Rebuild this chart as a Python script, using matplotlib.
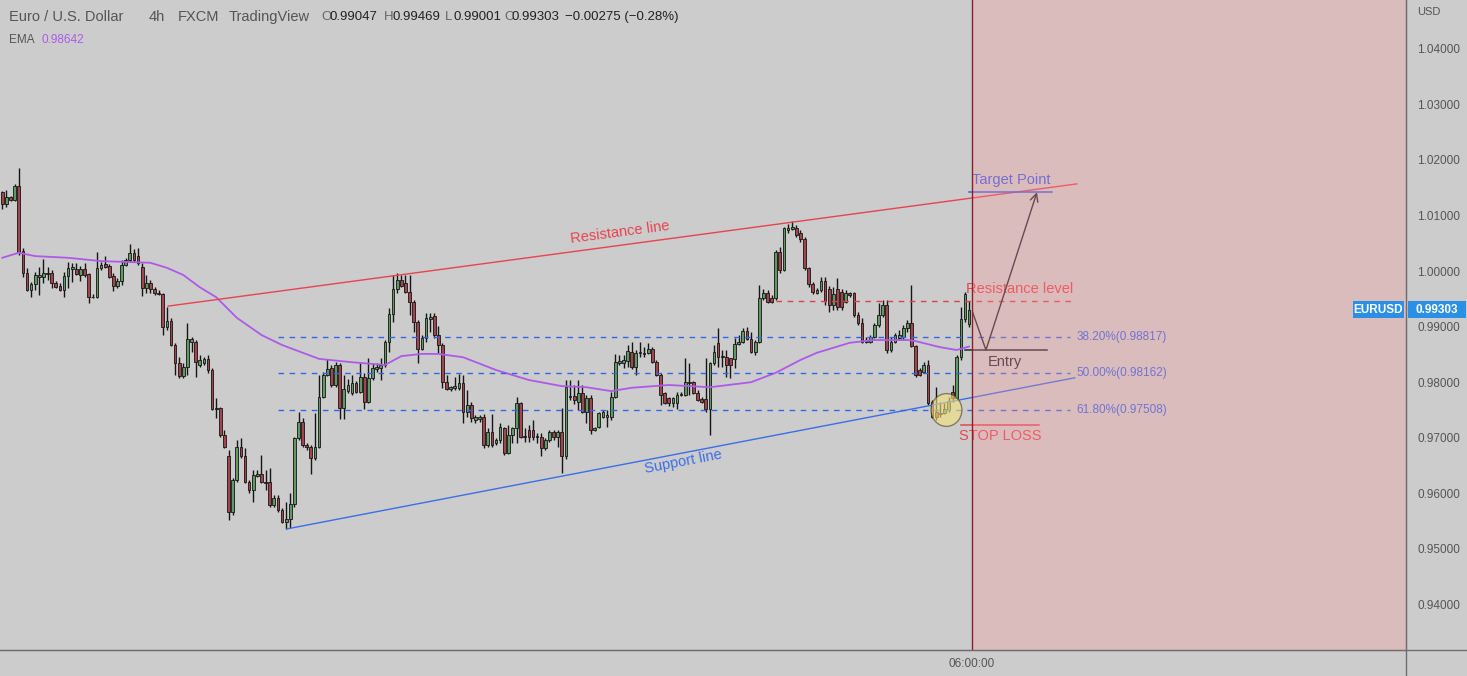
import matplotlib
matplotlib.use("Agg")
import matplotlib.pyplot as plt
import matplotlib.patches as mpatches
import matplotlib.transforms as mtransforms
from matplotlib.lines import Line2D
import numpy as np

plt.rcParams['font.family'] = ['Liberation Sans', 'DejaVu Sans']

# --- Data: EUR/USD 4h candles ----------------------------------------------
opens = [
    1.0142, 1.0121, 1.0133, 1.0128, 1.0153, 1.0036, 0.9997, 0.9966, 0.9977, 0.9989,
    0.9989, 0.9997, 0.9997, 0.9979, 0.9973, 0.9966, 0.9991, 1.0004, 1.0004, 0.9993,
    1.0004, 0.9995, 0.9953, 0.9953, 1.0006, 1.0013, 1.0009, 0.9991, 0.9973, 0.9982,
    1.0011, 1.0020, 1.0033, 1.0027, 1.0007, 0.9970, 0.9979, 0.9968, 0.9961, 0.9959,
    0.9899, 0.9910, 0.9867, 0.9835, 0.9811, 0.9827, 0.9872, 0.9872, 0.9831, 0.9835,
    0.9842, 0.9822, 0.9754, 0.9754, 0.9705, 0.9667, 0.9566, 0.9624, 0.9683, 0.9667,
    0.9620, 0.9606, 0.9631, 0.9635, 0.9620, 0.9620, 0.9579, 0.9592, 0.9570, 0.9549,
    0.9554, 0.9581, 0.9700, 0.9728, 0.9687, 0.9683, 0.9664, 0.9683, 0.9773, 0.9813,
    0.9826, 0.9795, 0.9831, 0.9754, 0.9784, 0.9781, 0.9799, 0.9782, 0.9809, 0.9764,
    0.9808, 0.9824, 0.9826, 0.9831, 0.9872, 0.9923, 0.9968, 0.9984, 0.9979, 0.9962,
    0.9944, 0.9908, 0.9860, 0.9880, 0.9914, 0.9919, 0.9885, 0.9867, 0.9800, 0.9788,
    0.9790, 0.9790, 0.9799, 0.9746, 0.9759, 0.9732, 0.9734, 0.9737, 0.9687, 0.9710,
    0.9691, 0.9696, 0.9718, 0.9673, 0.9705, 0.9718, 0.9763, 0.9704, 0.9714, 0.9714,
    0.9704, 0.9702, 0.9682, 0.9696, 0.9710, 0.9702, 0.9710, 0.9667, 0.9773, 0.9775,
    0.9764, 0.9781, 0.9746, 0.9772, 0.9714, 0.9719, 0.9737, 0.9737, 0.9737, 0.9773,
    0.9835, 0.9835, 0.9838, 0.9854, 0.9827, 0.9853, 0.9853, 0.9853, 0.9860, 0.9836,
    0.9813, 0.9781, 0.9772, 0.9763, 0.9763, 0.9777, 0.9777, 0.9799, 0.9800, 0.9781,
    0.9770, 0.9770, 0.9752, 0.9835, 0.9871, 0.9847, 0.9845, 0.9844, 0.9842, 0.9869,
    0.9872, 0.9892, 0.9878, 0.9854, 0.9872, 0.9952, 0.9961, 0.9952, 0.9952, 1.0034,
    1.0002, 1.0074, 1.0076, 1.0077, 1.0069, 1.0058, 1.0006, 0.9977, 0.9961, 0.9966,
    0.9982, 0.9968, 0.9939, 0.9968, 0.9962, 0.9944, 0.9961, 0.9961, 0.9921, 0.9907,
    0.9876, 0.9872, 0.9881, 0.9903, 0.9921, 0.9939, 0.9858, 0.9872, 0.9880, 0.9881,
    0.9898, 0.9907, 0.9865, 0.9822, 0.9818, 0.9831, 0.9764, 0.9746, 0.9745, 0.9745,
    0.9750, 0.9782, 0.9772, 0.9845, 0.9914, 0.99047,
]
highs = [
    1.0144, 1.0146, 1.0135, 1.0157, 1.0186, 1.0042, 1.0006, 0.9980, 0.9998, 1.0007,
    1.0022, 1.0007, 1.0002, 0.9982, 0.9979, 0.9998, 1.0016, 1.0015, 1.0015, 1.0009,
    1.0015, 0.9997, 0.9959, 1.0034, 1.0016, 1.0027, 1.0013, 0.9997, 0.9988, 1.0020,
    1.0024, 1.0049, 1.0040, 1.0042, 1.0015, 0.9993, 0.9984, 0.9971, 0.9966, 0.9961,
    0.9935, 0.9915, 0.9871, 0.9845, 0.9835, 0.9907, 0.9881, 0.9876, 0.9849, 0.9845,
    0.9849, 0.9826, 0.9772, 0.9755, 0.9714, 0.9678, 0.9628, 0.9696, 0.9700, 0.9682,
    0.9624, 0.9642, 0.9642, 0.9669, 0.9642, 0.9646, 0.9597, 0.9597, 0.9574, 0.9584,
    0.9601, 0.9702, 0.9746, 0.9736, 0.9691, 0.9687, 0.9745, 0.9813, 0.9818, 0.9842,
    0.9831, 0.9836, 0.9835, 0.9813, 0.9806, 0.9813, 0.9802, 0.9835, 0.9817, 0.9844,
    0.9835, 0.9835, 0.9844, 0.9876, 0.9934, 0.9993, 0.9997, 0.9993, 0.9993, 0.9993,
    0.9948, 0.9912, 0.9885, 0.9925, 0.9925, 0.9925, 0.9901, 0.9871, 0.9813, 0.9793,
    0.9809, 0.9815, 0.9813, 0.9786, 0.9764, 0.9741, 0.9741, 0.9743, 0.9718, 0.9743,
    0.9700, 0.9727, 0.9719, 0.9723, 0.9719, 0.9773, 0.9764, 0.9718, 0.9723, 0.9732,
    0.9709, 0.9709, 0.9700, 0.9714, 0.9714, 0.9714, 0.9754, 0.9804, 0.9804, 0.9795,
    0.9804, 0.9795, 0.9777, 0.9777, 0.9719, 0.9746, 0.9750, 0.9750, 0.9782, 0.9851,
    0.9849, 0.9849, 0.9867, 0.9872, 0.9858, 0.9872, 0.9863, 0.9871, 0.9863, 0.9840,
    0.9817, 0.9782, 0.9773, 0.9773, 0.9782, 0.9782, 0.9844, 0.9835, 0.9802, 0.9786,
    0.9773, 0.9844, 0.9836, 0.9867, 0.9898, 0.9858, 0.9858, 0.9844, 0.9880, 0.9885,
    0.9898, 0.9899, 0.9890, 0.9876, 0.9975, 0.9968, 0.9966, 0.9957, 1.0038, 1.0044,
    1.0079, 1.0085, 1.0090, 1.0083, 1.0074, 1.0061, 1.0007, 0.9980, 0.9970, 0.9989,
    0.9989, 0.9973, 0.9971, 0.9988, 0.9968, 0.9966, 0.9962, 0.9962, 0.9926, 0.9916,
    0.9881, 0.9885, 0.9907, 0.9943, 0.9948, 0.9948, 0.9881, 0.9889, 0.9894, 0.9903,
    0.9912, 0.9975, 0.9867, 0.9826, 0.9836, 0.9840, 0.9768, 0.9792, 0.9764, 0.9763,
    0.9773, 0.9795, 0.9849, 0.9935, 0.9962, 0.99469,
]
lows = [
    1.0112, 1.0115, 1.0126, 1.0126, 1.0029, 0.9989, 0.9964, 0.9953, 0.9966, 0.9957,
    0.9979, 0.9984, 0.9970, 0.9970, 0.9964, 0.9953, 0.9970, 0.9980, 0.9993, 0.9982,
    0.9989, 0.9943, 0.9952, 0.9952, 1.0002, 1.0006, 0.9988, 0.9964, 0.9970, 0.9975,
    1.0009, 1.0016, 1.0016, 1.0011, 0.9955, 0.9961, 0.9961, 0.9957, 0.9957, 0.9885,
    0.9894, 0.9865, 0.9813, 0.9808, 0.9808, 0.9813, 0.9854, 0.9809, 0.9827, 0.9831,
    0.9817, 0.9750, 0.9736, 0.9702, 0.9682, 0.9552, 0.9561, 0.9620, 0.9664, 0.9619,
    0.9601, 0.9584, 0.9629, 0.9619, 0.9606, 0.9575, 0.9575, 0.9566, 0.9547, 0.9536,
    0.9538, 0.9575, 0.9696, 0.9683, 0.9678, 0.9635, 0.9660, 0.9682, 0.9772, 0.9811,
    0.9792, 0.9792, 0.9734, 0.9734, 0.9781, 0.9777, 0.9781, 0.9781, 0.9752, 0.9763,
    0.9804, 0.9818, 0.9804, 0.9827, 0.9854, 0.9908, 0.9961, 0.9971, 0.9961, 0.9921,
    0.9890, 0.9835, 0.9858, 0.9872, 0.9890, 0.9880, 0.9853, 0.9790, 0.9786, 0.9784,
    0.9786, 0.9786, 0.9727, 0.9737, 0.9728, 0.9727, 0.9728, 0.9682, 0.9683, 0.9683,
    0.9687, 0.9691, 0.9669, 0.9671, 0.9691, 0.9691, 0.9700, 0.9693, 0.9693, 0.9696,
    0.9691, 0.9667, 0.9678, 0.9693, 0.9696, 0.9683, 0.9637, 0.9662, 0.9768, 0.9761,
    0.9750, 0.9745, 0.9727, 0.9707, 0.9712, 0.9718, 0.9736, 0.9719, 0.9732, 0.9772,
    0.9831, 0.9826, 0.9827, 0.9824, 0.9813, 0.9845, 0.9845, 0.9851, 0.9835, 0.9811,
    0.9759, 0.9761, 0.9757, 0.9755, 0.9752, 0.9775, 0.9775, 0.9777, 0.9779, 0.9766,
    0.9763, 0.9746, 0.9705, 0.9831, 0.9827, 0.9827, 0.9809, 0.9808, 0.9826, 0.9867,
    0.9871, 0.9876, 0.9853, 0.9849, 0.9871, 0.9948, 0.9943, 0.9943, 0.9948, 0.9997,
    1.0000, 1.0069, 1.0074, 1.0061, 1.0052, 1.0002, 0.9971, 0.9959, 0.9959, 0.9962,
    0.9939, 0.9926, 0.9930, 0.9930, 0.9930, 0.9943, 0.9953, 0.9917, 0.9903, 0.9871,
    0.9871, 0.9871, 0.9880, 0.9899, 0.9917, 0.9853, 0.9854, 0.9871, 0.9876, 0.9876,
    0.9890, 0.9863, 0.9809, 0.9811, 0.9817, 0.9759, 0.9736, 0.9732, 0.9737, 0.9743,
    0.9746, 0.9764, 0.9768, 0.9840, 0.9908, 0.99001,
]
closes = [
    1.0121, 1.0133, 1.0128, 1.0153, 1.0034, 0.9997, 0.9966, 0.9977, 0.9993, 0.9993,
    0.9997, 0.9995, 0.9979, 0.9971, 0.9966, 0.9991, 1.0006, 1.0007, 0.9995, 1.0004,
    0.9993, 0.9953, 0.9954, 1.0006, 1.0011, 1.0007, 0.9989, 0.9973, 0.9982, 1.0011,
    1.0020, 1.0033, 1.0020, 1.0015, 0.9970, 0.9979, 0.9968, 0.9961, 0.9959, 0.9899,
    0.9910, 0.9867, 0.9835, 0.9811, 0.9827, 0.9878, 0.9878, 0.9836, 0.9840, 0.9842,
    0.9822, 0.9752, 0.9752, 0.9705, 0.9683, 0.9566, 0.9624, 0.9683, 0.9667, 0.9620,
    0.9606, 0.9633, 0.9635, 0.9620, 0.9619, 0.9579, 0.9592, 0.9570, 0.9549, 0.9554,
    0.9581, 0.9700, 0.9728, 0.9687, 0.9683, 0.9664, 0.9683, 0.9773, 0.9813, 0.9824,
    0.9795, 0.9831, 0.9754, 0.9788, 0.9795, 0.9799, 0.9782, 0.9809, 0.9764, 0.9808,
    0.9826, 0.9827, 0.9831, 0.9872, 0.9923, 0.9968, 0.9984, 0.9973, 0.9962, 0.9944,
    0.9908, 0.9860, 0.9880, 0.9916, 0.9917, 0.9885, 0.9867, 0.9800, 0.9788, 0.9792,
    0.9793, 0.9799, 0.9746, 0.9759, 0.9736, 0.9737, 0.9737, 0.9687, 0.9710, 0.9687,
    0.9696, 0.9719, 0.9673, 0.9705, 0.9718, 0.9763, 0.9702, 0.9702, 0.9702, 0.9702,
    0.9702, 0.9682, 0.9696, 0.9710, 0.9702, 0.9710, 0.9667, 0.9792, 0.9775, 0.9768,
    0.9781, 0.9746, 0.9772, 0.9714, 0.9718, 0.9745, 0.9746, 0.9741, 0.9773, 0.9836,
    0.9838, 0.9840, 0.9856, 0.9827, 0.9853, 0.9854, 0.9851, 0.9860, 0.9836, 0.9813,
    0.9777, 0.9763, 0.9763, 0.9772, 0.9777, 0.9779, 0.9800, 0.9800, 0.9781, 0.9768,
    0.9764, 0.9752, 0.9835, 0.9854, 0.9845, 0.9845, 0.9831, 0.9831, 0.9869, 0.9872,
    0.9892, 0.9878, 0.9854, 0.9872, 0.9952, 0.9961, 0.9944, 0.9944, 1.0034, 1.0002,
    1.0077, 1.0077, 1.0079, 1.0065, 1.0058, 1.0006, 0.9977, 0.9962, 0.9966, 0.9982,
    0.9946, 0.9939, 0.9959, 0.9935, 0.9935, 0.9961, 0.9957, 0.9921, 0.9907, 0.9872,
    0.9872, 0.9881, 0.9903, 0.9921, 0.9939, 0.9858, 0.9872, 0.9885, 0.9885, 0.9898,
    0.9907, 0.9865, 0.9813, 0.9813, 0.9831, 0.9763, 0.9737, 0.9737, 0.9743, 0.9752,
    0.9766, 0.9772, 0.9845, 0.9914, 0.9958, 0.99303,
]

# EMA, sampled at bar indices
ema_bars = [0, 4, 8, 16, 24, 32, 36, 40, 44, 48, 52, 57, 63, 68, 77, 85, 93, 97,
            102, 106, 112, 120, 128, 136, 142, 148, 153, 162, 172, 182, 188, 194,
            198, 206, 212, 220, 222, 228, 232, 235]
ema_vals = [1.0024, 1.0033, 1.0027, 1.0024, 1.0018, 1.0016, 1.0015, 1.0006, 0.9993,
            0.9971, 0.9953, 0.9916, 0.9885, 0.9867, 0.9842, 0.9836, 0.9831, 0.9847,
            0.9851, 0.9851, 0.9845, 0.9822, 0.9804, 0.9793, 0.9791, 0.9784, 0.9790,
            0.9795, 0.9791, 0.9800, 0.9817, 0.9840, 0.9853, 0.9871, 0.9876, 0.9876,
            0.9874, 0.9863, 0.9858, 0.98642]

# Drawings (bar index, price)
resistance_line = [(40.3, 0.9937), (261.2, 1.0157)]
support_line = [(69.2, 0.9536), (260.7, 0.9808)]
fib_levels = [0.98817, 0.98162, 0.97508]
fib_labels = ["38.20%(0.98817)", "50.00%(0.98162)", "61.80%(0.97508)"]
fib_span = (67.0, 259.5)
resistance_level = 0.9947
resistance_level_span = (188.1, 260.0)
entry_price = 0.9858
entry_span = (234.0, 254.0)
stop_loss = 0.9723
stop_span = (233.0, 252.0)
target_price = 1.0142
target_span = (235.0, 255.2)
path_pts = [(235.9, 0.9925), (239.1, 0.9858), (251.5, 1.0142)]
circle_center = (229.5, 0.9750)
split_bar = 235.7            # 06:00:00 marker
yticks = [0.94, 0.95, 0.96, 0.97, 0.98, 0.99, 1.00, 1.01, 1.02, 1.03, 1.04]
last_price = 0.99303

# --- Figure ------------------------------------------------------------------
W, H = 1467, 676
BG = '#cccccc'
fig = plt.figure(figsize=(W / 100, H / 100), dpi=100, facecolor=BG)
ax = fig.add_axes([0, 26 / H, 1406 / W, 650 / H], facecolor=BG)
XMAX = (1406 - 2.3) / 4.114
ax.set_xlim(-2.3 / 4.114, XMAX)
ax.set_ylim(0.9318, 1.0488)

idx = np.arange(len(closes))
o, h, l, c = map(np.array, (opens, highs, lows, closes))
up = c >= o
face = np.where(up, '#5f9a62', '#a3444c')
bottom = np.minimum(o, c)
height = np.maximum(np.abs(c - o), 0.00006)
ax.vlines(idx, l, h, color='#151515', lw=1.0, zorder=2)
ax.bar(idx, height, bottom=bottom, width=0.66, color=face,
       edgecolor='#151515', linewidth=0.6, zorder=3)

ax.plot(ema_bars, ema_vals, color='#ad5ae8', lw=1.3, zorder=4)

# trend lines
(rx0, ry0), (rx1, ry1) = resistance_line
ax.plot([rx0, rx1], [ry0, ry1], color='#e8434f', lw=1.0, zorder=4)
(sx0, sy0), (sx1, sy1) = support_line
ax.plot([sx0, sx1], [sy0, sy1], color='#3a6fe8', lw=1.0, zorder=4)
ax.text(150.1, 1.0069, "Resistance line", color='#e8434f', fontsize=10.5,
        rotation=7.6, ha='center', va='center', zorder=4)
ax.text(165.5, 0.9656, "Support line", color='#3a6fe8', fontsize=10.5,
        rotation=10.8, ha='center', va='center', zorder=4)

# fib levels
for lvl, lab in zip(fib_levels, fib_labels):
    ax.plot(fib_span, [lvl, lvl], color='#3366e6', lw=1.0, dashes=(4, 4), zorder=4)
    ax.text(fib_span[1] + 1.5, lvl, lab, color='#3366e6', fontsize=8.5,
            ha='left', va='center', zorder=4)

ax.plot(resistance_level_span, [resistance_level] * 2, color='#e0404a', lw=1.0,
        dashes=(4, 4), zorder=4)
ax.text(247.4, 0.9968, "Resistance level", color='#e8434f', fontsize=10.5,
        ha='center', va='center', zorder=4)

ax.plot(entry_span, [entry_price] * 2, color='#2a2a2a', lw=1.1, zorder=4)
ax.text(243.7, 0.9836, "Entry", color='#2a2a2a', fontsize=10.5,
        ha='center', va='center', zorder=4)

ax.plot(stop_span, [stop_loss] * 2, color='#e8434f', lw=1.1, zorder=4)
ax.text(242.5, 0.9703, "STOP LOSS", color='#e8434f', fontsize=10.5,
        ha='center', va='center', zorder=4)

ax.plot(target_span, [target_price] * 2, color='#3a5fe8', lw=1.1, zorder=4)
ax.text(245.2, 1.0164, "Target Point", color='#3a5fe8', fontsize=10.5,
        ha='center', va='center', zorder=4)

(p0x, p0y), (p1x, p1y), (p2x, p2y) = path_pts
ax.plot([p0x, p1x], [p0y, p1y], color='#2a2a2a', lw=1.0, zorder=4)
ax.annotate('', xy=(p2x, p2y), xytext=(p1x, p1y),
            arrowprops=dict(arrowstyle='->', color='#2a2a2a', lw=1.0,
                            mutation_scale=14, shrinkA=0, shrinkB=0), zorder=4)

ax.add_patch(mpatches.Ellipse(circle_center, 7.5, 0.0059, facecolor='#f5e27a',
                              edgecolor='#4a4426', lw=1.0, alpha=0.6, zorder=4.5))

# shaded future region
ax.axvspan(split_bar, XMAX, facecolor=(254 / 255, 151 / 255, 157 / 255),
           alpha=0.3, lw=0, zorder=5)
ax.axvline(split_bar, color='#8a1f2c', lw=1.0, zorder=6)

# axes styling
for side in ('top', 'left'):
    ax.spines[side].set_visible(False)
ax.spines['right'].set_color('#6e6e6e')
ax.spines['bottom'].set_color('#6e6e6e')
ax.yaxis.tick_right()
ax.set_yticks(yticks)
ax.set_yticklabels([f"{v:.5f}" for v in yticks])
ax.tick_params(axis='y', length=0, pad=8, labelsize=8.5, labelcolor='#555555')
ax.set_xticks([split_bar])
ax.set_xticklabels(["06:00:00"])
ax.tick_params(axis='x', length=0, pad=6, labelsize=8.5, labelcolor='#555555')

fig.add_artist(Line2D([1406 / W, 1406 / W], [0, 1], color='#6e6e6e', lw=1.0))
fig.add_artist(Line2D([0, 1], [26 / H, 26 / H], color='#6e6e6e', lw=1.0))
fig.text(1417 / W, 1 - 12 / H, "USD", color='#555555', fontsize=8, va='center')

# last price badges
tr = mtransforms.blended_transform_factory(fig.transFigure, ax.transData)
bh = 17 * 0.00018
fig.add_artist(mpatches.Rectangle((1353 / W, last_price - bh / 2), 51 / W, bh,
                                  transform=tr, facecolor='#2b8fe6', lw=0, zorder=10))
fig.add_artist(mpatches.Rectangle((1408 / W, last_price - bh / 2), 58 / W, bh,
                                  transform=tr, facecolor='#2b8fe6', lw=0, zorder=10))
fig.text(1378.5 / W, last_price, "EURUSD", transform=tr, color='white',
         fontsize=8.5, fontweight='bold', ha='center', va='center', zorder=11)
fig.text(1437 / W, last_price, f"{last_price:.5f}", transform=tr, color='white',
         fontsize=8.5, fontweight='bold', ha='center', va='center', zorder=11)

# header
hdr = [(9, "Euro / U.S. Dollar", '#555555'), (149, "4h", '#555555'),
       (178, "FXCM", '#555555'), (229, "TradingView", '#555555')]
for x, s, col in hdr:
    fig.text(x / W, 1 - 17 / H, s, color=col, fontsize=10.5, va='center')
ohlc = [(321, "O", "0.99047"), (384, "H", "0.99469"),
        (445, "L", "0.99001"), (504, "C", "0.99303")]
for x, k, v in ohlc:
    fig.text(x / W, 1 - 17 / H, k, color='#666666', fontsize=9.5, va='center')
    fig.text((x + 8) / W, 1 - 17 / H, v, color='#222222', fontsize=9.5, va='center')
fig.text(565 / W, 1 - 17 / H, "\u22120.00275 (\u22120.28%)", color='#222222',
         fontsize=9.5, va='center')
fig.text(9 / W, 1 - 40 / H, "EMA", color='#555555', fontsize=8.5, va='center')
fig.text(41 / W, 1 - 40 / H, "0.98642", color='#ad5ae8', fontsize=8.5, va='center')

fig.savefig("out.png", dpi=100, facecolor=BG)
